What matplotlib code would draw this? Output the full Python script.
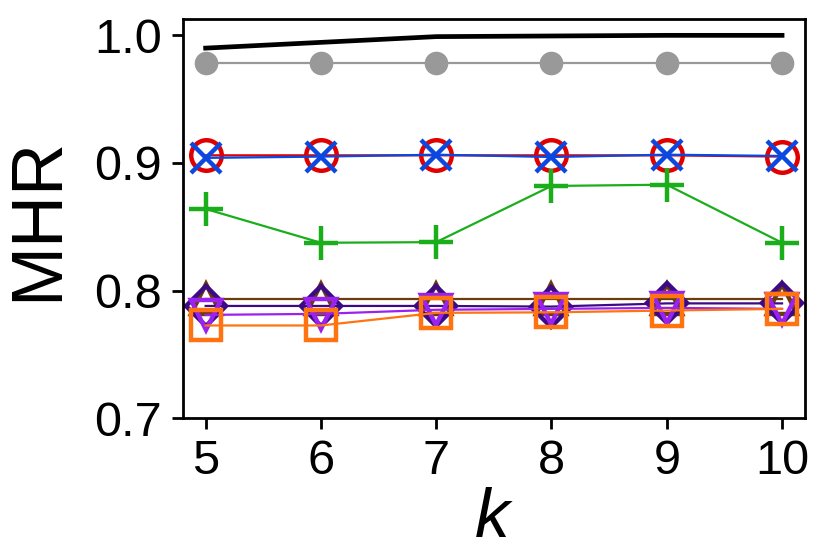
import matplotlib
matplotlib.use("Agg")
import matplotlib.pyplot as plt

plt.rcParams.update({
    "font.family": ["Liberation Sans", "DejaVu Sans"],
    "mathtext.fontset": "custom",
    "mathtext.it": "Liberation Sans:italic",
})

k = [5, 6, 7, 8, 9, 10]

# one list per method
upper = [0.990, 0.9945, 0.999, 0.9995, 1.000, 1.000]
gray = [0.978, 0.978, 0.978, 0.978, 0.978, 0.978]
red = [0.906, 0.906, 0.906, 0.906, 0.906, 0.905]
blue = [0.904, 0.905, 0.9065, 0.9047, 0.9065, 0.9055]
green = [0.864, 0.8375, 0.838, 0.882, 0.883, 0.8375]
brown = [0.7935, 0.7935, 0.7935, 0.7935, 0.7935, 0.7935]
indigo = [0.788, 0.788, 0.788, 0.7875, 0.790, 0.790]
violet = [0.781, 0.7818, 0.785, 0.7857, 0.7865, 0.7857]
orange = [0.7727, 0.7727, 0.7826, 0.783, 0.7844, 0.7857]

fig, ax = plt.subplots(figsize=(4.15, 2.77), dpi=200)

ax.plot(k, upper, color="black", linewidth=1.7)
ax.plot(k, gray, color="#999999", linewidth=0.8, marker="o", markersize=7.5)
ax.plot(k, red, color="#e00000", linewidth=0.8, marker="o", markersize=11,
        markerfacecolor="none", markeredgewidth=1.6)
ax.plot(k, blue, color="#0a48e0", linewidth=0.8, marker="x", markersize=11,
        markeredgewidth=1.6)
ax.plot(k, green, color="#1aae1a", linewidth=0.8, marker="+", markersize=12,
        markeredgewidth=1.6)
ax.plot(k, brown, color="#6b3d0b", linewidth=0.8, marker="^", markersize=11,
        markerfacecolor="none", markeredgewidth=1.6)
ax.plot(k, indigo, color="#3d0a85", linewidth=0.8, marker="D", markersize=10,
        markerfacecolor="none", markeredgewidth=1.6)
ax.plot(k, violet, color="#9b22ee", linewidth=0.8, marker="v", markersize=11,
        markerfacecolor="none", markeredgewidth=1.6)
ax.plot(k, orange, color="#ff7410", linewidth=0.8, marker="s", markersize=10.5,
        markerfacecolor="none", markeredgewidth=1.6)

ax.set_xlim(4.8, 10.2)
ax.set_ylim(0.7, 1.0125)
ax.set_xticks(k)
ax.set_yticks([0.7, 0.8, 0.9, 1.0])
ax.tick_params(labelsize=17.5, length=4, width=1)
for s in ax.spines.values():
    s.set_linewidth(1)

ax.set_xlabel("$k$", fontsize=25, labelpad=1)
ax.set_ylabel("MHR", fontsize=26, labelpad=8)

fig.subplots_adjust(left=0.22, right=0.97, bottom=0.245, top=0.965)
fig.savefig("out.png", dpi=200)
